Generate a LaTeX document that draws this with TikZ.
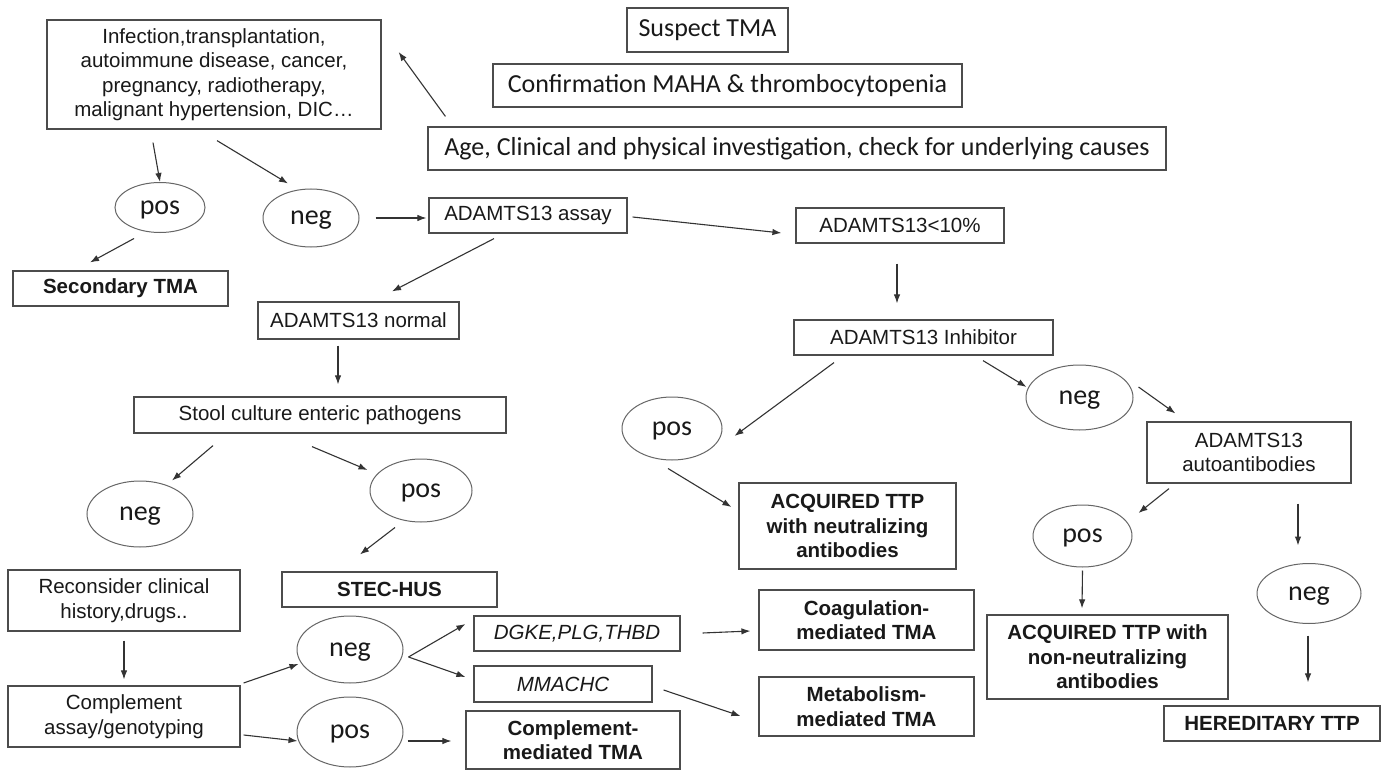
\documentclass[tikz,border=0pt]{standalone}
\usepackage{fontspec}
\setmainfont{Liberation Sans}
\newfontfamily\calibri{Carlito}
\usetikzlibrary{shapes.geometric,arrows.meta,calc}

\begin{document}
\begin{tikzpicture}[x=1pt,y=-1pt,
    box/.style={draw=black!70,line width=1.2pt,inner sep=0pt,align=center,text=black!90,
      font=\fontsize{20.5}{24.5}\selectfont},
    bbox/.style={box,font=\fontsize{20.5}{24.5}\selectfont\bfseries},
    ibox/.style={box,font=\fontsize{20.5}{24.5}\selectfont\itshape},
    cbox/.style={box,font=\calibri\fontsize{26}{30}\selectfont},
    oval/.style={draw=black!60,line width=1pt,ellipse,inner sep=0pt,text=black!90,text depth=0pt,
      font=\calibri\fontsize{28}{32}\selectfont},
    arr/.style={draw=black!80,line width=1.1pt,-{Latex[length=9pt,width=6.5pt]}}]
		\fill[white] (0,0) rectangle (1384,770);
		\useasboundingbox (0,0) rectangle (1384,770);
		
		% First steps
		\node[cbox,minimum width=161,minimum height=44] (suspect) at (707.5,30) {Suspect TMA};
		\node[cbox,minimum width=469,minimum height=43] (confirm) at (727.5,85.5) {Confirmation MAHA \& thrombocytopenia};
		\node[cbox,minimum width=738,minimum height=43] (age) at (797,148.5) {Age, Clinical and physical investigation, check for underlying causes};
		\node[box,minimum width=334,minimum height=109] (inf) at (214,74.5) {Infection,transplantation,\\autoimmune disease, cancer,\\pregnancy, radiotherapy,\\malignant hypertension, DIC…};
		
		% Underlying causes
		\node[oval,minimum width=90,minimum height=50] (pos1) at (160,207.5) {pos};
		\node[oval,minimum width=96,minimum height=58] (neg1) at (311,218) {neg};
		\node[bbox,minimum width=215,minimum height=35] (second) at (120.5,288.5) {Secondary TMA};
		
		% ADAMTS13 branch
		\node[box,minimum width=198,minimum height=35] (assay) at (528,215.5) {ADAMTS13 assay};
		\node[box,minimum width=208,minimum height=35] (low) at (900,225.5) {ADAMTS13<10\%};
		\node[box,minimum width=201,minimum height=37] (normal) at (358.5,320.5) {ADAMTS13 normal};
		\node[box,minimum width=259,minimum height=35] (inhib) at (923.5,337.5) {ADAMTS13 Inhibitor};
		\node[oval,minimum width=100,minimum height=63] (pos3) at (672,428.5) {pos};
		\node[oval,minimum width=107,minimum height=65] (neg3) at (1079.5,397.5) {neg};
		\node[box,minimum width=204,minimum height=61] (auto) at (1249,452.5) {ADAMTS13\\autoantibodies};
		\node[bbox,minimum width=217,minimum height=86] (acqn) at (847.5,526) {ACQUIRED TTP\\with neutralizing\\antibodies};
		\node[oval,minimum width=99,minimum height=62] (pos4) at (1082.5,536) {pos};
		\node[oval,minimum width=104,minimum height=60] (neg4) at (1309,593.5) {neg};
		\node[bbox,minimum width=241,minimum height=84] (acqnn) at (1107.5,657) {ACQUIRED TTP with\\non-neutralizing\\antibodies};
		\node[bbox,minimum width=216,minimum height=35] (hered) at (1272,723.5) {HEREDITARY TTP};
		
		% Stool culture branch
		\node[box,minimum width=372,minimum height=36] (stool) at (320,415) {Stool culture enteric pathogens};
		\node[oval,minimum width=106,minimum height=66] (neg2) at (140,514) {neg};
		\node[oval,minimum width=102,minimum height=63] (pos2) at (421,490.5) {pos};
		\node[bbox,minimum width=215,minimum height=35] (stec) at (389.5,589.5) {STEC-HUS};
		\node[box,minimum width=232,minimum height=61] (recons) at (124,600.5) {Reconsider clinical\\history,drugs..};
		\node[box,minimum width=232,minimum height=61] (compl) at (124,716.5) {Complement\\assay/genotyping};
		\node[oval,minimum width=106,minimum height=67] (neg5) at (350,649.5) {neg};
		\node[oval,minimum width=106,minimum height=70] (pos5) at (350,732) {pos};
		\node[ibox,minimum width=206,minimum height=35] (dgke) at (577,633.5) {DGKE,PLG,THBD};
		\node[ibox,minimum width=178,minimum height=36] (mmachc) at (563,684) {MMACHC};
		\node[bbox,minimum width=214,minimum height=58] (cmed) at (573,740) {Complement-\\mediated TMA};
		\node[bbox,minimum width=215,minimum height=60] (coag) at (866.5,620) {Coagulation-\\mediated TMA};
		\node[bbox,minimum width=215,minimum height=59] (metab) at (866.5,706.5) {Metabolism-\\mediated TMA};
		
		% Arrows
		\draw[arr] ($(age.north west)+(18,-10)$) -- ($(inf.east)+(17,-22.5)$);
		\draw[arr] ($(inf.south)+(-61,13)$) -- (pos1.north);
		\draw[arr] ($(inf.south)+(3,11)$) -- ($(neg1.north)+(-23,-5)$);
		\draw[arr] ($(pos1.south)+(-26,5.5)$) -- ($(second.north)+(-30.5,-8)$);
		\draw[arr] ($(neg1.east)+(16,0)$) -- ($(assay.west)+(-2,2.5)$);
		\draw[arr] ($(assay.east)+(5,1.5)$) -- ($(low.west)+(-14,7.5)$);
		\draw[arr] ($(assay.south)+(-34,5)$) -- ($(normal.north)+(33.5,-10)$);
		\draw[arr] ($(normal.south)+(-20.5,6)$) -- ($(stool.north)+(18,-12)$);
		\draw[arr] ($(low.south)+(-3,20)$) -- ($(inhib.north)+(-26.5,-16)$);
		\draw[arr] ($(stool.south)+(-107,12)$) -- ($(neg2.north)+(32,0)$);
		\draw[arr] ($(stool.south)+(-8,13)$) -- ($(pos2.west)+(-2,-20.5)$);
		\draw[arr] ($(pos2.south)+(-26,5)$) -- ($(stec.north)+(-29.5,-17)$);
		\draw[arr] ($(inhib.south)+(-89.5,7)$) -- ($(pos3.east)+(12,7.5)$);
		\draw[arr] ($(inhib.south)+(59.5,5)$) -- ($(neg3.west)+(1,-10.5)$);
		\draw[arr] ($(pos3.south)+(-4,8)$) -- ($(acqn.west)+(-7,-19)$);
		\draw[arr] ($(neg3.east)+(5,-10.5)$) -- ($(auto.north west)+(29,-8)$);
		\draw[arr] ($(auto.south)+(-80,5)$) -- ($(pos4.east)+(6,-23)$);
		\draw[arr] ($(auto.south)+(49,20)$) -- ($(neg4.north)+(-11,-17.5)$);
		\draw[arr] ($(pos4.south)+(0,3)$) -- ($(acqnn.north)+(-25.5,-6)$);
		\draw[arr] ($(neg4.south)+(-1,11.5)$) -- ($(hered.north)+(36,-23)$);
		\draw[arr] ($(recons.south)+(0,9)$) -- ($(compl.north)+(0,-6)$);
		\draw[arr] ($(compl.east)+(3,-33.5)$) -- ($(neg5.west)+(2,14.5)$);
		\draw[arr] ($(compl.east)+(3,18.5)$) -- ($(pos5.west)+(1,9)$);
		\draw[arr] ($(neg5.east)+(5,7.5)$) -- ($(dgke.west)+(-8,-9.5)$);
		\draw[arr] ($(neg5.east)+(5,7.5)$) -- ($(mmachc.west)+(-8,-7)$);
		\draw[arr] ($(pos5.east)+(4,9)$) -- ($(cmed.west)+(-14,1)$);
		\draw[arr] ($(dgke.east)+(22,-0.5)$) -- ($(coag.west)+(-8,11)$);
		\draw[arr] ($(mmachc.east)+(11,6)$) -- ($(metab.west)+(-18,9.5)$);
	\end{tikzpicture}
\end{document}
